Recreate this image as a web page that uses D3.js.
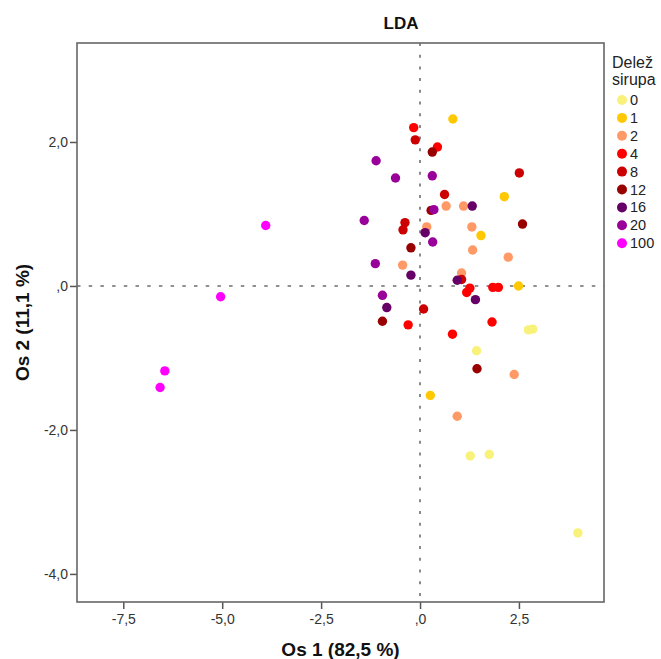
<!DOCTYPE html>
<html>
<head>
<meta charset="utf-8">
<script src="https://cdn.jsdelivr.net/npm/d3@7/dist/d3.min.js"></script>
<style>
  body { margin: 0; background: #fff; }
  svg { display: block; font-family: "Liberation Sans", Arial, sans-serif; }
</style>
</head>
<body>
<svg id="chart" width="661" height="659"></svg>
<script>
// Legend groups (Delež sirupa) and colours
const groups = ["0", "1", "2", "4", "8", "12", "16", "20", "100"];
const groupColors = ["#f8f17a", "#ffc800", "#ff9966", "#ff0000", "#cc0000", "#990000", "#660066", "#990099", "#ff00ff"];

// Points per group: [Os 1, Os 2]
const g0 = [[1.43,-0.90],[2.74,-0.61],[2.85,-0.60],[1.27,-2.36],[1.75,-2.34],[3.99,-3.43]];
const g1 = [[0.83,2.32],[1.54,0.70],[2.13,1.24],[2.49,0.00],[0.26,-1.52]];
const g2 = [[0.66,1.11],[1.10,1.11],[0.17,0.82],[1.31,0.82],[1.33,0.50],[-0.44,0.29],[1.05,0.18],[2.23,0.40],[2.38,-1.23],[0.94,-1.81]];
const g4 = [[-0.16,2.20],[0.44,1.93],[1.26,-0.03],[1.18,-0.09],[1.84,-0.02],[1.98,-0.02],[1.82,-0.50],[0.82,-0.67],[-0.30,-0.54]];
const g8 = [[-0.12,2.03],[0.62,1.27],[-0.38,0.88],[-0.43,0.78],[1.05,0.09],[0.09,-0.32],[2.51,1.57]];
const g12 = [[0.31,1.86],[0.28,1.05],[-0.23,0.53],[-0.95,-0.49],[1.44,-1.15],[2.59,0.86]];
const g16 = [[1.32,1.11],[0.13,0.74],[-0.23,0.15],[0.94,0.08],[1.40,-0.19],[-0.84,-0.30]];
const g20 = [[-1.11,1.74],[-0.62,1.50],[0.31,1.53],[0.35,1.06],[-1.41,0.91],[0.32,0.61],[-1.13,0.31],[-0.95,-0.13]];
const g100 = [[-3.90,0.84],[-5.04,-0.15],[-6.45,-1.18],[-6.57,-1.41]];
const groupPoints = [g0, g1, g2, g4, g8, g12, g16, g20, g100];

const xTicks = [-7.5, -5.0, -2.5, 0, 2.5];
const xTickLabels = ["-7,5", "-5,0", "-2,5", ",0", "2,5"];
const yTicks = [2.0, 0, -2.0, -4.0];
const yTickLabels = ["2,0", ",0", "-2,0", "-4,0"];
const xDomain = [-8.67, 4.65];
const yDomain = [-4.39, 3.375];

const svg = d3.select("#chart");
const L = 77, R = 604, T = 43, B = 602;

const x = d3.scaleLinear().domain(xDomain).range([L, R]);
const y = d3.scaleLinear().domain(yDomain).range([B, T]);

// Reference lines
svg.append("line")
  .attr("x1", x(0)).attr("x2", x(0)).attr("y1", T).attr("y2", B)
  .attr("stroke", "#6e6e6e").attr("stroke-width", 1.6).attr("stroke-dasharray", "3,8.7");
svg.append("line")
  .attr("x1", L).attr("x2", R).attr("y1", y(0)).attr("y2", y(0))
  .attr("stroke", "#6e6e6e").attr("stroke-width", 1.6).attr("stroke-dasharray", "3.5,8.2");

// Points
const pts = [];
groupPoints.forEach((arr, gi) => arr.forEach(p => pts.push({x: p[0], y: p[1], g: gi})));
svg.append("g").selectAll("circle").data(pts).join("circle")
  .attr("cx", d => x(d.x)).attr("cy", d => y(d.y)).attr("r", 4.7)
  .attr("fill", d => groupColors[d.g]);

// Axes
const xAxis = d3.axisBottom(x).tickValues(xTicks).tickFormat((d, i) => xTickLabels[i]).tickSize(7).tickPadding(5);
const yAxis = d3.axisLeft(y).tickValues(yTicks).tickFormat((d, i) => yTickLabels[i]).tickSize(7).tickPadding(2);

const gx = svg.append("g").attr("transform", `translate(0,${B})`).call(xAxis);
const gy = svg.append("g").attr("transform", `translate(${L},0)`).call(yAxis);
[gx, gy].forEach(g => {
  g.select(".domain").remove();
  g.selectAll(".tick line").attr("stroke", "#555").attr("stroke-width", 1.5);
  g.selectAll(".tick text").attr("fill", "#333").style("font-size", "14px")
    .style("font-family", "'Liberation Sans', Arial, sans-serif");
});

// Frame
svg.append("rect").attr("x", L).attr("y", T).attr("width", R - L).attr("height", B - T)
  .attr("fill", "none").attr("stroke", "#666").attr("stroke-width", 1.6);

// Titles
svg.append("text").attr("x", 401).attr("y", 29).attr("text-anchor", "middle")
  .style("font-size", "17px").style("font-weight", "bold").attr("fill", "#111").text("LDA");
svg.append("text").attr("x", (L + R) / 2).attr("y", 656).attr("text-anchor", "middle")
  .style("font-size", "19px").style("font-weight", "bold").attr("fill", "#111").text("Os 1 (82,5 %)");
svg.append("text").attr("transform", `translate(29,${(T + B) / 2}) rotate(-90)`).attr("text-anchor", "middle")
  .style("font-size", "19px").style("font-weight", "bold").attr("fill", "#111").text("Os 2 (11,1 %)");

// Legend
const lg = svg.append("g");
lg.append("text").attr("x", 612).attr("y", 68).style("font-size", "16px").attr("fill", "#222").text("Delež");
lg.append("text").attr("x", 612).attr("y", 85).style("font-size", "16px").attr("fill", "#222").text("sirupa");
groups.forEach((gname, i) => {
  const cy = 100 + i * 17.9;
  lg.append("circle").attr("cx", 622).attr("cy", cy).attr("r", 5).attr("fill", groupColors[i]);
  lg.append("text").attr("x", 630).attr("y", cy + 5).style("font-size", "14.5px").attr("fill", "#222").text(gname);
});
</script>
</body>
</html>
